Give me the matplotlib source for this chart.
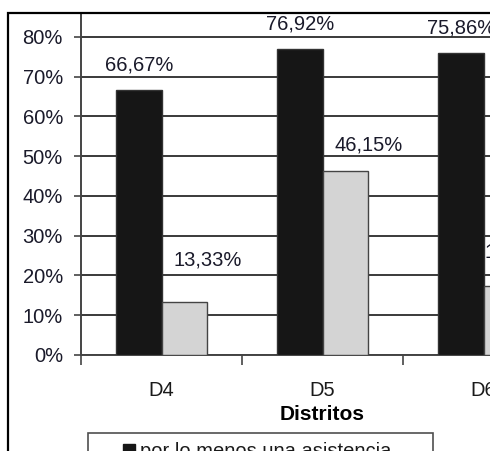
import matplotlib
matplotlib.use('Agg')
import matplotlib.pyplot as plt
from matplotlib.patches import Rectangle
from matplotlib.lines import Line2D
import numpy as np

plt.rcParams['font.family'] = ['Liberation Sans', 'DejaVu Sans']

distritos = ['D4', 'D5', 'D6']
una_asistencia = [66.67, 76.92, 75.86]
otra_serie = [13.33, 46.15, 17.24]
series_names = ['por lo menos una asistencia', 'más de una asistencia']
yticks = [0, 10, 20, 30, 40, 50, 60, 70, 80]

W, H = 490, 451
FS = 14.5
fig = plt.figure(figsize=(W / 100, H / 100), dpi=100)

# axes box in pixels: left 81, top 13, bottom 355, right beyond the image
ax = fig.add_axes([81 / W, (H - 355) / H, 483 / W, 342 / H])

x = np.arange(len(distritos))
bw = 0.28
ax.bar(x - bw / 2, una_asistencia, bw, color='#161616', edgecolor='#333333',
       linewidth=1, zorder=3)
ax.bar(x + bw / 2, otra_serie, bw, color='#d4d4d4', edgecolor='#444444',
       linewidth=1, zorder=3)

ax.set_xlim(-0.5, 2.5)
ax.set_ylim(0, 86)
ax.set_yticks(yticks)
ax.set_yticklabels([f'{t}%' for t in yticks], fontsize=FS, color='#1a1a2a')
ax.yaxis.grid(True, color='#3a3a3a', linewidth=1.4, zorder=0)
ax.set_axisbelow(True)

ax.set_xticks(x)
ax.set_xticklabels(distritos, fontsize=FS, color='#1a1a1a')
ax.tick_params(axis='x', length=0, pad=19)
ax.set_xticks([-0.5, 0.5, 1.5, 2.5], minor=True)
ax.tick_params(axis='x', which='minor', length=7, width=1.2, color='#444444')
ax.tick_params(axis='y', length=5, width=1.2, color='#444444', pad=8)

for s in ['top', 'right']:
    ax.spines[s].set_visible(False)
for s in ['left', 'bottom']:
    ax.spines[s].set_color('#444444')
    ax.spines[s].set_linewidth(1.4)

ax.set_xlabel('Distritos', fontsize=15, fontweight='bold', labelpad=3)

# data labels (offsets in points, Excel labels were nudged by hand)
off1 = [18, 18, 18]
off2 = [30, 19, 25]
dx2 = [17, 17, 9]
for xi, v, o in zip(x, una_asistencia, off1):
    ax.annotate(f'{v:.2f}%'.replace('.', ','), (xi - bw / 2, v), xytext=(0, o),
                textcoords='offset points', ha='center', va='center', fontsize=FS,
                color='#1a1a2a', annotation_clip=False)
for xi, v, o, d in zip(x, otra_serie, off2, dx2):
    ax.annotate(f'{v:.2f}%'.replace('.', ','), (xi + bw / 2, v), xytext=(d, o),
                textcoords='offset points', ha='center', va='center', fontsize=FS,
                color='#1a1a2a', annotation_clip=False)

# outer chart border
fig.patches.append(Rectangle((8 / W, -0.1), 1.2, (H - 13) / H + 0.1,
                             transform=fig.transFigure, fill=False,
                             edgecolor='black', linewidth=1.6, zorder=10))

handles = [Line2D([], [], ls='none', marker='s', markersize=8.5,
                  markerfacecolor='#161616', markeredgecolor='#161616'),
           Line2D([], [], ls='none', marker='s', markersize=8.5,
                  markerfacecolor='#d4d4d4', markeredgecolor='#444444')]
leg = fig.legend(handles, series_names, loc='upper left',
                 bbox_to_anchor=(88 / W, (H - 433) / H - 0.3, 345 / W, 0.3),
                 mode='expand', borderaxespad=0, fontsize=FS, frameon=True,
                 fancybox=False, edgecolor='#222222', handlelength=3.2,
                 handletextpad=-1.05, borderpad=0.45, labelspacing=0.2)
leg.get_frame().set_linewidth(1.2)
for t in leg.get_texts():
    t.set_color('#1a1a1a')

fig.savefig('out.png', dpi=100)
